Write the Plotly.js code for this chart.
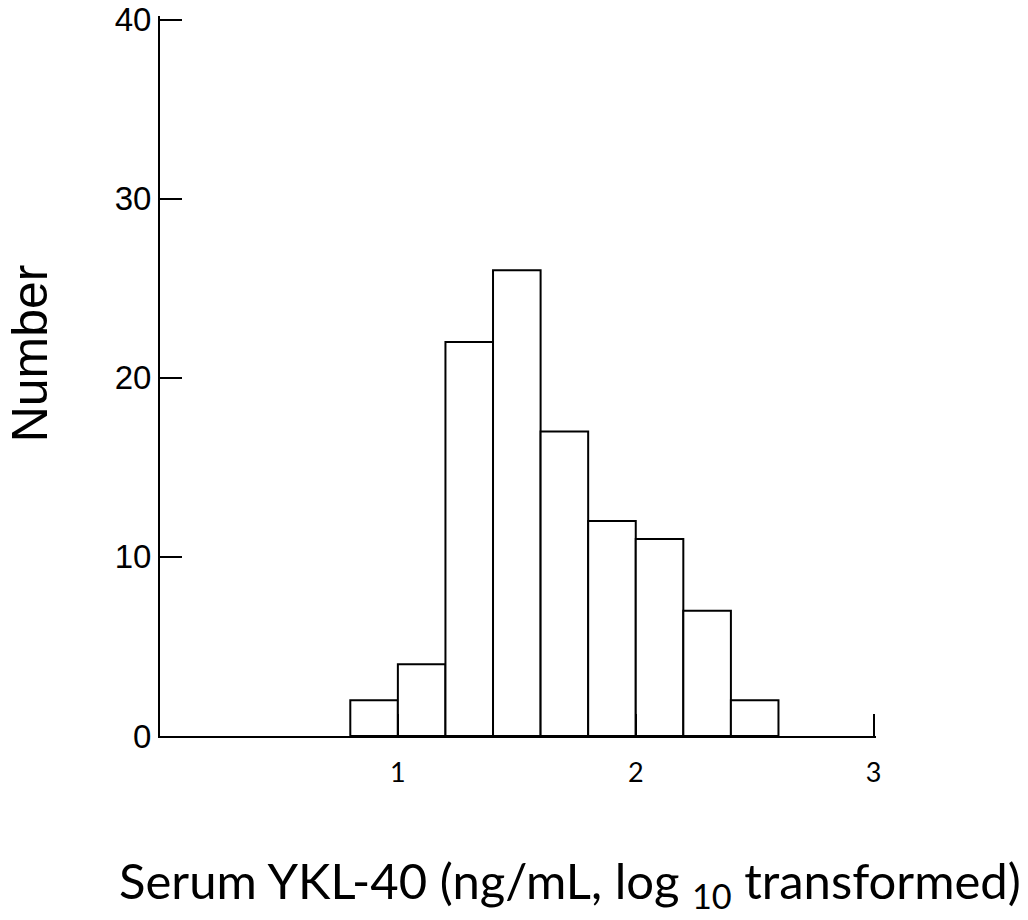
<!DOCTYPE html>
<html>
<head>
<meta charset="utf-8">
<script src="https://cdn.plot.ly/plotly-3.0.1.min.js"></script>
<style>html,body{margin:0;padding:0;background:#fff;}#chart{width:1028px;height:920px;}</style>
</head>
<body>
<div id="chart"></div>
<script>
// Histogram bins (log10 ng/mL), bin width 0.2
const binStarts = [0.8, 1.0, 1.2, 1.4, 1.6, 1.8, 2.0, 2.2, 2.4];
const counts    = [2, 4, 22, 26, 17, 12, 11, 7, 2];
const binWidth = 0.2;
const xTickVals = [1, 2, 3];
const xTickText = ['1', '2', '3'];
const yTickVals = [0, 10, 20, 30, 40];
const yTickText = ['0', '10', '20', '30', '40'];
const xTitle = 'Serum YKL-40 (ng/mL, log <sub>10</sub> transformed)';
const yTitle = 'Number';

const centers = binStarts.map(s => s + binWidth / 2);

const trace = {
  type: 'bar',
  x: centers,
  y: counts,
  width: binStarts.map(() => binWidth),
  marker: { color: '#ffffff', line: { color: '#000000', width: 2 } },
  hoverinfo: 'x+y'
};

const layout = {
  width: 1028,
  height: 920,
  margin: { l: 160, r: 152, t: 16, b: 184 },
  paper_bgcolor: '#ffffff',
  plot_bgcolor: '#ffffff',
  showlegend: false,
  xaxis: {
    range: [0, 3.01],
    tickvals: xTickVals,
    ticktext: xTickText,
    ticks: 'inside',
    ticklen: 22,
    tickwidth: 2,
    tickcolor: '#000',
    showline: true,
    linewidth: 2,
    linecolor: '#000',
    showgrid: false,
    zeroline: false,
    ticklabelstandoff: 12,
    tickfont: { family: 'Lato, "Open Sans", sans-serif', size: 27, color: '#000' },
    automargin: false
  },
  yaxis: {
    range: [0, 40.2],
    tickvals: yTickVals,
    ticktext: yTickText,
    ticks: 'inside',
    ticklen: 22,
    tickwidth: 2,
    tickcolor: '#000',
    showline: true,
    linewidth: 2,
    linecolor: '#000',
    showgrid: false,
    zeroline: false,
    ticklabeloverflow: 'allow',
    tickfont: { family: '"Liberation Sans", Arial, sans-serif', size: 33, color: '#000' },
    automargin: false
  },
  annotations: [
    {
      text: xTitle, xref: 'paper', yref: 'paper',
      x: 0.573, y: -0.205, xanchor: 'center', yanchor: 'middle',
      showarrow: false,
      font: { family: 'Lato, "Open Sans", sans-serif', size: 49, color: '#000' }
    },
    {
      text: yTitle, xref: 'paper', yref: 'paper',
      x: -0.182, y: 0.531, xanchor: 'center', yanchor: 'middle',
      textangle: -90, showarrow: false,
      font: { family: '"Liberation Sans", Arial, sans-serif', size: 50, color: '#000' }
    }
  ]
};

Plotly.newPlot('chart', [trace], layout, { displayModeBar: false, staticPlot: true });
</script>
</body>
</html>
